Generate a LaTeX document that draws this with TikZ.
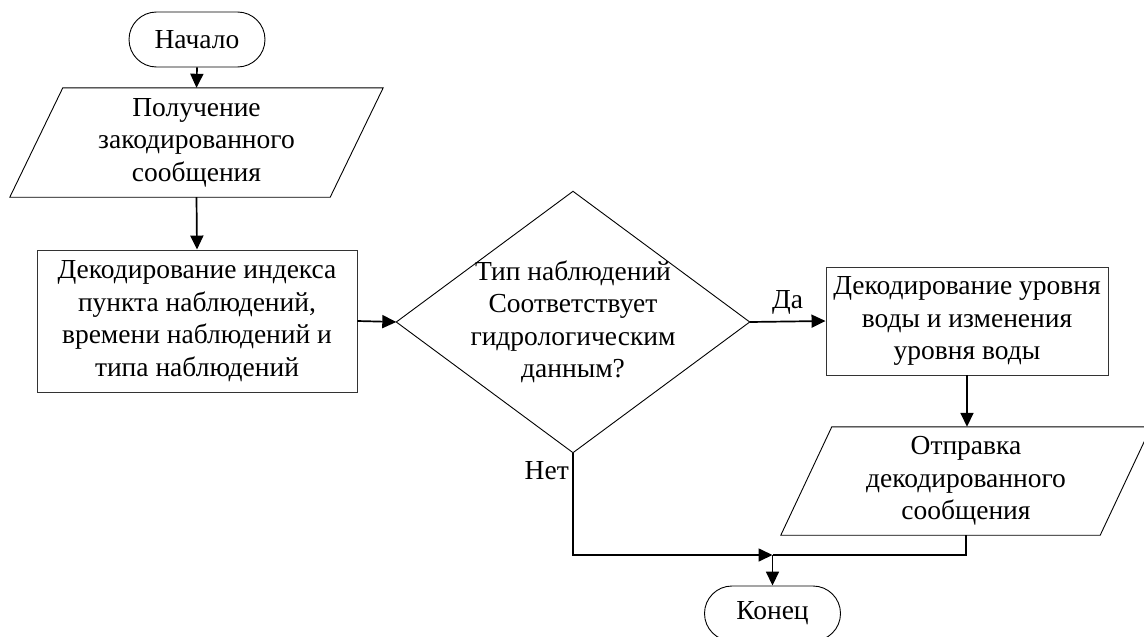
\documentclass[tikz,border=0pt]{standalone}
\usepackage{fontspec}
\setmainfont{Liberation Serif}
\usetikzlibrary{arrows.meta,shapes.misc}

\tikzset{
  txt/.style={font=\fontsize{27.5}{32.5}\selectfont, align=center, inner sep=0pt},
  terminal/.style={txt, rounded rectangle, draw, line width=0.9pt,
    minimum width=136pt, minimum height=55pt},
  process/.style={txt, rectangle, draw=black!80, line width=0.9pt},
  frame/.style={txt, rectangle},
  outline/.style={line width=0.9pt, line join=miter},
  conn/.style={line width=1.7pt},
  arr/.style={conn, -{Triangle[length=14pt,width=13pt]}},
  lbl/.style={font=\fontsize{27.5}{32.5}\selectfont, inner sep=0pt}
}

\begin{document}
\begin{tikzpicture}[x=1pt, y=-1pt]
  \useasboundingbox (0,0) rectangle (1144,637);

  % start terminal
  \node[terminal] (start) at (197,39.5) {Начало};

  % input: received message
  \node[frame, minimum width=373pt, minimum height=109pt] (in) at (196.5,142.5)
    {Получение\\закодированного\\сообщения};
  \draw[outline] ([xshift=53pt]in.north west) -- (in.north east)
    -- ([xshift=-53pt]in.south east) -- (in.south west) -- cycle;

  % decode station / time / type
  \node[process, minimum width=320pt, minimum height=142pt] (dec) at (197,321)
    {Декодирование индекса\\пункта наблюдений,\\времени наблюдений и\\типа наблюдений};

  % decision
  \node[frame, minimum width=353pt, minimum height=261pt] (cond) at (573,322)
    {Тип наблюдений\\Соответствует\\гидрологическим\\данным?};
  \draw[outline] (cond.north) -- (cond.east) -- (cond.south) -- (cond.west) -- cycle;

  % decode water level
  \node[process, minimum width=282pt, minimum height=108pt] (lev) at (967,321)
    {Декодирование уровня\\воды и изменения\\уровня воды};

  % output: send decoded message
  \node[frame, minimum width=370pt, minimum height=108pt] (out) at (966,481)
    {Отправка\\декодированного\\сообщения};
  \draw[outline] ([xshift=51pt]out.north west) -- (out.north east)
    -- ([xshift=-51pt]out.south east) -- (out.south west) -- cycle;

  % end terminal
  \node[terminal] (stop) at (772.5,613.5) {Конец};

  % joining point above the end
  \coordinate (join) at (772.5,555);

  % connectors
  \draw[arr] (start.south) -- (in.south |- in.north);
  \draw[arr] (in.south) -- (dec.north);
  \draw[arr] (dec.east) -- (cond.west);
  \draw[arr] (cond.east) -- node[lbl, above=6pt] {Да} (lev.west);
  \draw[arr] (lev.south) -- (lev.south |- out.north);
  \draw[arr] (cond.south) |- (join);
  \draw[conn] (out.south) |- (join);
  \draw[arr] (join) -- (stop.north);

  % branch label
  \node[lbl, anchor=east] (no) at ([xshift=-4pt, yshift=-18pt]cond.south) {Нет};
\end{tikzpicture}
\end{document}
